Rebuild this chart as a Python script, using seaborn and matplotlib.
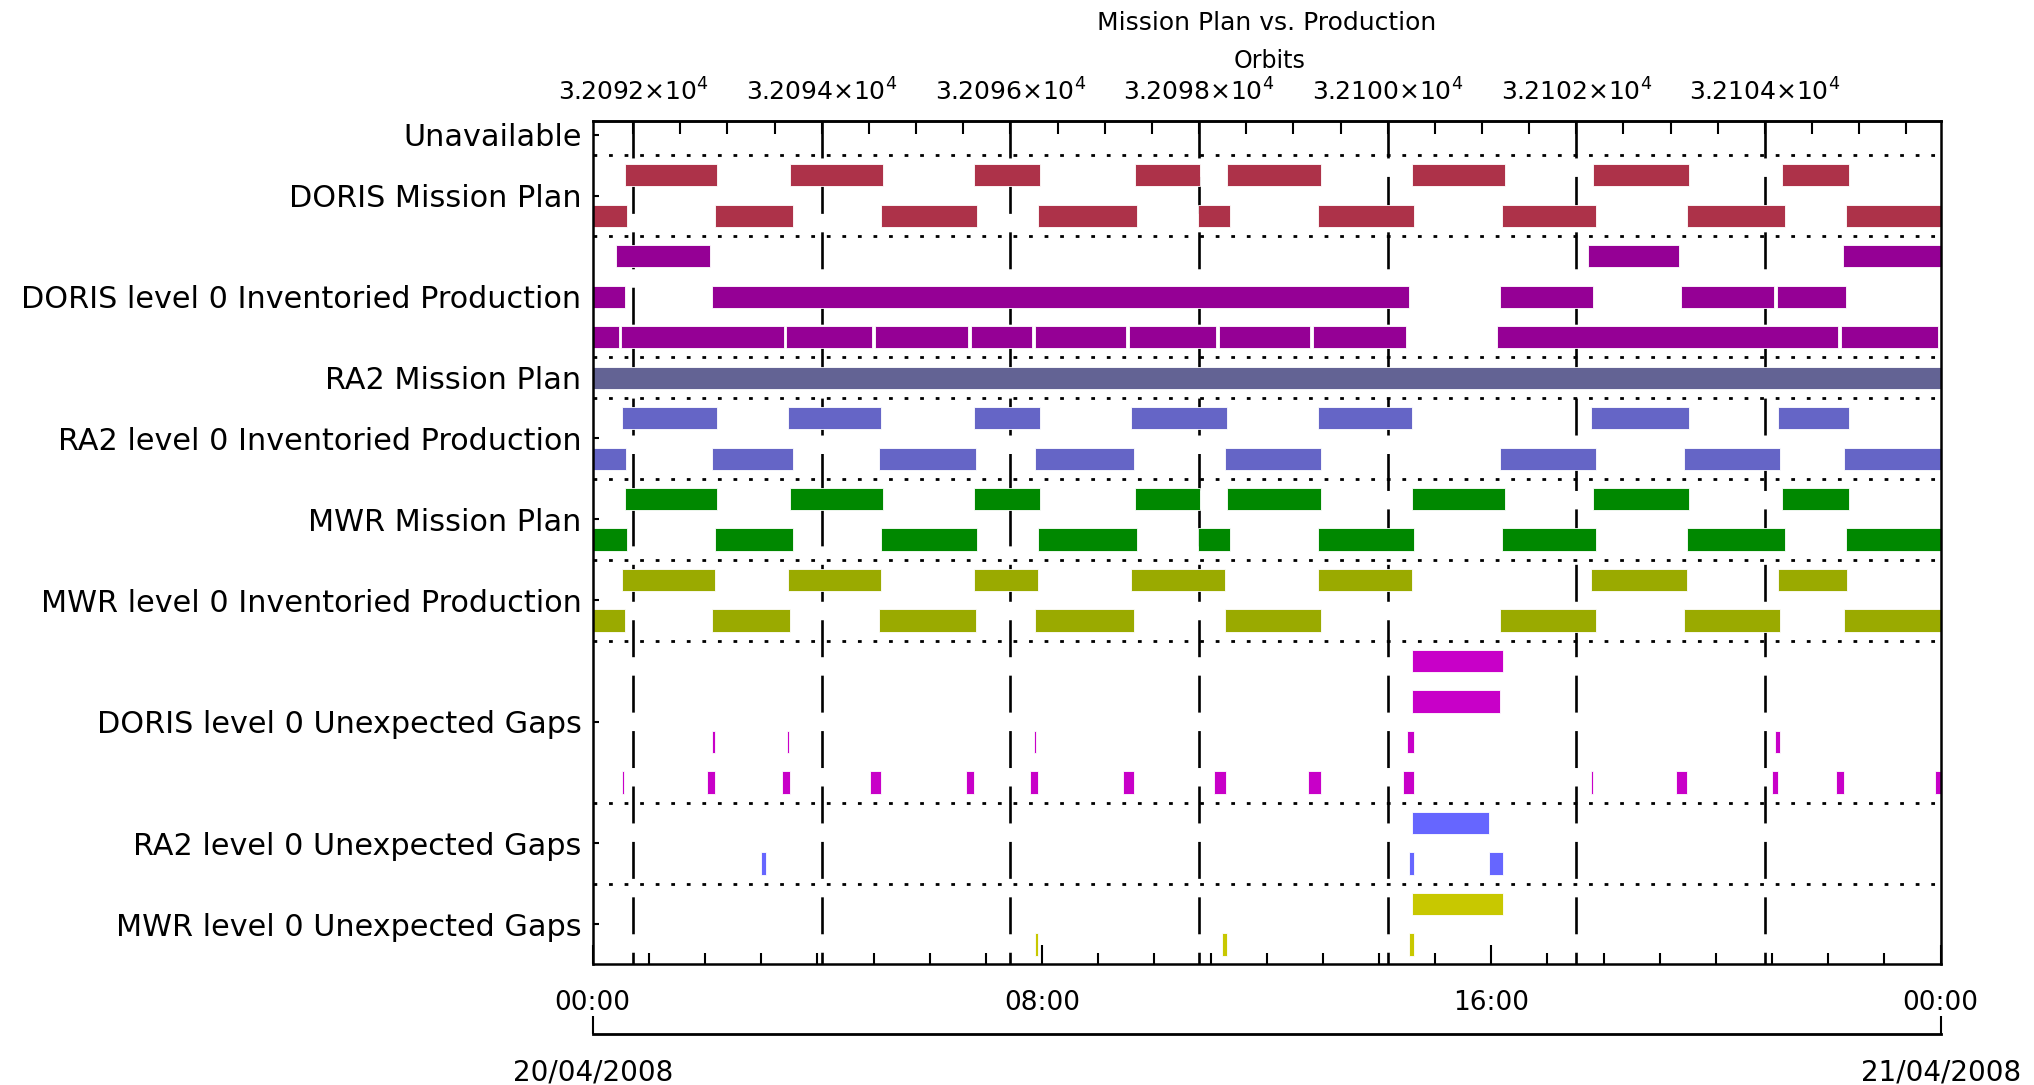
import numpy as np
import pandas as pd
import seaborn as sns
import matplotlib
matplotlib.use("Agg")
import matplotlib.pyplot as plt
from matplotlib.ticker import MultipleLocator, FixedLocator, FuncFormatter, NullLocator

sns.set_style("ticks", {"axes.edgecolor": "black", "xtick.color": "black",
                        "ytick.color": "black", "text.color": "black",
                        "axes.labelcolor": "black"})
plt.rcParams["font.family"] = ["DejaVu Sans"]

# all spans are (start, end) in hours after 20/04/2008 00:00
doris_plan_a = [(0.57, 2.22), (3.51, 5.17), (6.79, 7.97), (9.65, 10.82), (11.30, 12.96),
                (14.58, 16.24), (17.81, 19.52), (21.18, 22.37)]
doris_plan_b = [(0.0, 0.61), (2.17, 3.56), (5.13, 6.84), (7.92, 9.69), (10.78, 11.35),
                (12.91, 14.62), (16.19, 17.86), (19.48, 21.23), (22.32, 24.0)]
doris_inv_a = [(0.42, 2.08), (17.72, 19.35), (22.27, 24.0)]
doris_inv_b = [(0.0, 0.57), (2.13, 14.53), (16.15, 17.81), (19.38, 21.04), (21.09, 22.32)]
doris_inv_c = [(0.0, 0.46), (0.51, 3.40), (3.45, 4.97), (5.02, 6.68), (6.73, 7.83),
               (7.88, 9.50), (9.55, 11.10), (11.15, 12.77), (12.82, 14.48),
               (16.10, 22.17), (22.22, 23.95)]
ra2_plan = [(0.0, 24.0)]
ra2_inv_a = [(0.52, 2.22), (3.47, 5.13), (6.79, 7.97), (9.59, 11.30), (12.92, 14.58),
             (17.77, 19.52), (21.10, 22.37)]
ra2_inv_b = [(0.0, 0.60), (2.13, 3.56), (5.09, 6.83), (7.88, 9.64), (11.26, 12.97),
             (16.15, 17.86), (19.43, 21.14), (22.28, 24.0)]
mwr_plan_a = [(0.57, 2.22), (3.51, 5.17), (6.79, 7.97), (9.65, 10.82), (11.30, 12.96),
              (14.58, 16.24), (17.81, 19.52), (21.18, 22.37)]
mwr_plan_b = [(0.0, 0.61), (2.17, 3.56), (5.13, 6.84), (7.92, 9.69), (10.78, 11.35),
              (12.91, 14.62), (16.19, 17.86), (19.48, 21.23), (22.32, 24.0)]
mwr_inv_a = [(0.52, 2.18), (3.47, 5.13), (6.79, 7.93), (9.59, 11.26), (12.92, 14.58),
             (17.77, 19.48), (21.10, 22.33)]
mwr_inv_b = [(0.0, 0.57), (2.13, 3.51), (5.09, 6.83), (7.88, 9.64), (11.26, 12.97),
             (16.15, 17.86), (19.43, 21.14), (22.28, 24.0)]
doris_gap_a = [(14.58, 16.20)]
doris_gap_b = [(14.58, 16.15)]
doris_gap_c = [(2.13, 2.17), (3.46, 3.50), (7.86, 7.90), (14.49, 14.63), (21.05, 21.14)]
doris_gap_d = [(0.52, 0.56), (2.04, 2.18), (3.37, 3.52), (4.93, 5.13), (6.64, 6.79),
               (7.79, 7.93), (9.45, 9.64), (11.07, 11.27), (12.73, 12.97), (14.43, 14.63),
               (17.77, 17.81), (19.29, 19.49), (21.00, 21.10), (22.14, 22.28), (23.90, 24.0)]
ra2_gap_a = [(14.58, 15.95)]
ra2_gap_b = [(2.99, 3.08), (14.54, 14.63), (15.95, 16.20)]
mwr_gap_a = [(14.58, 16.20)]
mwr_gap_b = [(7.88, 7.92), (11.20, 11.30), (14.54, 14.63)]

row_labels = ["Unavailable", "DORIS Mission Plan", "DORIS level 0 Inventoried Production",
              "RA2 Mission Plan", "RA2 level 0 Inventoried Production", "MWR Mission Plan",
              "MWR level 0 Inventoried Production", "DORIS level 0 Unexpected Gaps",
              "RA2 level 0 Unexpected Gaps", "MWR level 0 Unexpected Gaps"]
label_slots = [0, 1.5, 4, 6, 7.5, 9.5, 11.5, 14.5, 17.5, 19.5]
separators = [0.5, 2.5, 5.5, 6.5, 8.5, 10.5, 12.5, 16.5, 18.5]

orbit_ticks = [32092, 32094, 32096, 32098, 32100, 32102, 32104]
orbit_ref_hour = 0.72     # hour at which orbit 32092 starts
orbit_period = 1.6793     # hours

hour_ticks = [0, 8, 16, 24]
hour_labels = ["00:00", "08:00", "16:00", "00:00"]
date_labels = ["20/04/2008", "21/04/2008"]

tracks = [
    (1, doris_plan_a, "#AD3249"), (2, doris_plan_b, "#AD3249"),
    (3, doris_inv_a, "#950095"), (4, doris_inv_b, "#950095"), (5, doris_inv_c, "#950095"),
    (6, ra2_plan, "#636394"),
    (7, ra2_inv_a, "#6565C6"), (8, ra2_inv_b, "#6565C6"),
    (9, mwr_plan_a, "#008800"), (10, mwr_plan_b, "#008800"),
    (11, mwr_inv_a, "#9AAA00"), (12, mwr_inv_b, "#9AAA00"),
    (13, doris_gap_a, "#C800C8"), (14, doris_gap_b, "#C800C8"),
    (15, doris_gap_c, "#C800C8"), (16, doris_gap_d, "#C800C8"),
    (17, ra2_gap_a, "#6666FF"), (18, ra2_gap_b, "#6666FF"),
    (19, mwr_gap_a, "#C8C800"), (20, mwr_gap_b, "#C8C800"),
]
rows = []
for slot, spans, color in tracks:
    for s, e in spans:
        rows.append({"slot": slot, "start": s, "end": e, "color": color})
bars = pd.DataFrame(rows)
bars["length"] = bars["end"] - bars["start"]


def to_orbit(h):
    return 32092 + (np.asarray(h) - orbit_ref_hour) / orbit_period


def to_hour(o):
    return orbit_ref_hour + (np.asarray(o) - 32092) * orbit_period


Y_TOP, Y_BOT = -0.35, 20.48

fig, ax = plt.subplots(figsize=(20.34, 10.85), dpi=100)
fig.subplots_adjust(left=0.2914, right=0.9541, top=0.8888, bottom=0.1117)
ax.set_xlim(0, 24)
ax.set_ylim(Y_BOT, Y_TOP)

for y in separators:
    ax.axhline(y, color="black", lw=2, linestyle=(0, (1.35, 4.25)), zorder=1)
for o in orbit_ticks:
    h = float(to_hour(o))
    ax.plot([h, h], [Y_TOP, Y_BOT], color="black", lw=1.9,
            linestyle=(0, (14, 7)), zorder=1)

ax.barh(bars["slot"], bars["length"], left=bars["start"], height=0.55,
        color=bars["color"], edgecolor="white", linewidth=0.6, zorder=2)

ax.set_yticks(label_slots, row_labels)
ax.tick_params(axis="y", direction="in", length=4, width=1.5, pad=8,
               labelsize=21.8, right=False)

ax.set_xticks(hour_ticks, hour_labels)
ax.xaxis.set_minor_locator(MultipleLocator(1))
ax.tick_params(axis="x", which="major", direction="in", length=14, width=1.5,
               pad=19, labelsize=19, top=False)
ax.tick_params(axis="x", which="minor", direction="in", length=8, width=1.5, top=False)
for s in ax.spines.values():
    s.set_linewidth(1.8)
    s.set_color("black")
    s.set_visible(True)

sec = ax.secondary_xaxis("top", functions=(to_orbit, to_hour))
sec.xaxis.set_major_locator(FixedLocator(orbit_ticks))
sec.xaxis.set_minor_locator(MultipleLocator(0.5))
sec.xaxis.set_major_formatter(FuncFormatter(lambda v, p: f"{v / 1e4:.4f}×10$^{{4}}$"))
sec.tick_params(which="both", direction="in", length=9.5, width=1.5, pad=11, labelsize=18)
sec.spines["top"].set_linewidth(1.8)

dax = ax.secondary_xaxis(-0.083)
dax.set_xticks([0, 24], date_labels)
dax.xaxis.set_minor_locator(NullLocator())
dax.tick_params(direction="in", length=13, width=1.5, pad=18, labelsize=20)
dax.spines["bottom"].set_linewidth(2)

fig.text(0.6228, 0.979, "Mission Plan vs. Production", ha="center", va="center", fontsize=18)
fig.text(0.6240, 0.944, "Orbits", ha="center", va="center", fontsize=17)

fig.savefig("out.png", dpi=100)
